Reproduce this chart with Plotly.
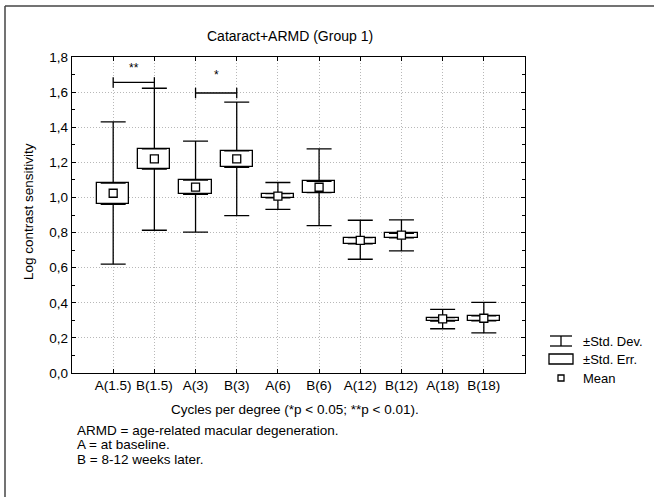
import plotly.graph_objects as go

categories = ["A(1.5)", "B(1.5)", "A(3)", "B(3)", "A(6)", "B(6)", "A(12)", "B(12)", "A(18)", "B(18)"]
means = [1.024, 1.220, 1.059, 1.220, 1.007, 1.058, 0.755, 0.785, 0.308, 0.312]
se_hi = [1.082, 1.277, 1.099, 1.266, 1.022, 1.091, 0.771, 0.796, 0.315, 0.325]
se_lo = [0.961, 1.162, 1.018, 1.172, 0.997, 1.028, 0.735, 0.770, 0.296, 0.297]
sd_hi = [1.430, 1.622, 1.321, 1.543, 1.085, 1.277, 0.870, 0.872, 0.362, 0.402]
sd_lo = [0.620, 0.813, 0.802, 0.896, 0.932, 0.840, 0.648, 0.696, 0.252, 0.228]

# significance brackets: (first category index, second category index, bracket level, label, label level)
sig_pairs = [(0, 1, 1.655, "**", 1.74), (2, 3, 1.595, "*", 1.70)]

xpos = list(range(1, len(categories) + 1))

FONT = "Liberation Sans, Arial, sans-serif"
L, R, T, B = 72, 525, 57, 373
W, H = 654, 497

def px(x):
    return (x - L) / (R - L)

def py(y):
    return (B - y) / (B - T)

fig = go.Figure()

# ±SE boxes
fig.add_trace(go.Bar(
    x=xpos, base=se_lo, y=[h - l for h, l in zip(se_hi, se_lo)],
    width=0.78, marker=dict(color="white", line=dict(color="black", width=1.3)),
    showlegend=False, hoverinfo="skip"))

# ±SD whiskers (upper part and lower part, from box edges)
fig.add_trace(go.Scatter(
    x=xpos, y=se_hi, mode="markers", marker=dict(size=0.1, color="rgba(0,0,0,0)"),
    error_y=dict(type="data", symmetric=False,
                 array=[h - s for h, s in zip(sd_hi, se_hi)],
                 arrayminus=[0] * len(xpos), color="black", thickness=1.3, width=12.5),
    showlegend=False, hoverinfo="skip"))
fig.add_trace(go.Scatter(
    x=xpos, y=se_lo, mode="markers", marker=dict(size=0.1, color="rgba(0,0,0,0)"),
    error_y=dict(type="data", symmetric=False,
                 array=[0] * len(xpos),
                 arrayminus=[s - l for s, l in zip(se_lo, sd_lo)], color="black", thickness=1.3, width=12.5),
    showlegend=False, hoverinfo="skip"))

# Means
fig.add_trace(go.Scatter(
    x=xpos, y=means, mode="markers",
    marker=dict(symbol="square", size=8, color="white", line=dict(color="black", width=1.3)),
    showlegend=False, hoverinfo="skip"))

shapes = []
annotations = []

# Significance brackets
for a, b, lvl, lab, lablvl in sig_pairs:
    xa, xb = xpos[a], xpos[b]
    shapes.append(dict(type="line", xref="x", yref="y", x0=xa, x1=xb, y0=lvl, y1=lvl,
                       line=dict(color="black", width=1.3)))
    for xx in (xa, xb):
        shapes.append(dict(type="line", xref="x", yref="y", x0=xx, x1=xx, y0=lvl - 0.03, y1=lvl + 0.03,
                           line=dict(color="black", width=1.3)))
    annotations.append(dict(xref="x", yref="y", x=(xa + xb) / 2, y=lablvl, text=lab, showarrow=False,
                            font=dict(family=FONT, size=12, color="black")))

# Outer frame (top and left edges visible)
shapes.append(dict(type="line", xref="paper", yref="paper", x0=px(5), x1=px(W + 5), y0=py(6), y1=py(6),
                   line=dict(color="#444", width=1.5)))
shapes.append(dict(type="line", xref="paper", yref="paper", x0=px(5), x1=px(5), y0=py(6), y1=py(H + 5),
                   line=dict(color="#444", width=1.5)))

# Legend (drawn manually)
lx0, lx1 = 549, 573
lxc = (lx0 + lx1) / 2
shapes += [
    dict(type="line", xref="paper", yref="paper", x0=px(lx0 + 1), x1=px(lx1 - 1), y0=py(336), y1=py(336), line=dict(color="black", width=1.3)),
    dict(type="line", xref="paper", yref="paper", x0=px(lx0 + 1), x1=px(lx1 - 1), y0=py(346), y1=py(346), line=dict(color="black", width=1.3)),
    dict(type="line", xref="paper", yref="paper", x0=px(lxc), x1=px(lxc), y0=py(336), y1=py(346), line=dict(color="black", width=1.3)),
    dict(type="rect", xref="paper", yref="paper", x0=px(lx0), x1=px(lx1), y0=py(354), y1=py(364), line=dict(color="black", width=1.3), fillcolor="white"),
    dict(type="rect", xref="paper", yref="paper", x0=px(lxc - 3), x1=px(lxc + 3), y0=py(375), y1=py(381), line=dict(color="black", width=1.3), fillcolor="white"),
]
for txt, yy in (("±Std. Dev.", 341), ("±Std. Err.", 359.5), ("Mean", 378)):
    annotations.append(dict(xref="paper", yref="paper", x=px(581), y=py(yy), text=txt, showarrow=False,
                            xanchor="left", yanchor="middle", font=dict(family=FONT, size=13, color="black")))

# Title
annotations.append(dict(xref="paper", yref="paper", x=px(290), y=py(36), text="Cataract+ARMD (Group 1)",
                        showarrow=False, xanchor="center", yanchor="middle",
                        font=dict(family=FONT, size=14, color="black")))
# X-axis title
annotations.append(dict(xref="paper", yref="paper", x=px(295), y=py(409),
                        text="Cycles per degree (*p < 0.05; **p < 0.01).",
                        showarrow=False, xanchor="center", yanchor="middle",
                        font=dict(family=FONT, size=13.5, color="black")))
# Notes
for txt, yy in (("ARMD = age-related macular degeneration.", 430),
                ("A = at baseline.", 444.5),
                ("B = 8-12 weeks later.", 459)):
    annotations.append(dict(xref="paper", yref="paper", x=px(75), y=py(yy), text=txt, showarrow=False,
                            xanchor="left", yanchor="middle", font=dict(family=FONT, size=13.5, color="black")))
# Y-axis title
annotations.append(dict(xref="paper", yref="paper", x=px(29), y=py(212), text="Log contrast sensitivity",
                        showarrow=False, textangle=-90, xanchor="center", yanchor="middle",
                        font=dict(family=FONT, size=13.5, color="black")))

fig.update_layout(
    width=W, height=H,
    margin=dict(l=L, r=W - R, t=T, b=H - B),
    paper_bgcolor="white", plot_bgcolor="white",
    separators=", ",
    font=dict(family=FONT, size=13, color="black"),
    shapes=shapes, annotations=annotations,
    showlegend=False, bargap=0,
)
fig.update_xaxes(
    range=[0, len(categories) + 1], tickvals=xpos, ticktext=categories,
    showgrid=True, gridcolor="#b8b8b8", griddash="1px,2px", gridwidth=1,
    showline=True, linecolor="black", linewidth=1.3, mirror="ticks",
    ticks="inside", ticklen=4, tickcolor="black", zeroline=False,
    tickfont=dict(family=FONT, size=13.5, color="black"),
)
fig.update_yaxes(
    range=[0, 1.8], tickvals=[0, 0.2, 0.4, 0.6, 0.8, 1.0, 1.2, 1.4, 1.6, 1.8], tickformat=".1f",
    showgrid=True, gridcolor="#b8b8b8", griddash="1px,2px", gridwidth=1,
    showline=True, linecolor="black", linewidth=1.3, mirror="ticks",
    ticks="inside", ticklen=4, tickcolor="black", zeroline=False,
    minor=dict(dtick=0.1, ticks="inside", ticklen=3, tickcolor="black", showgrid=False),
    tickfont=dict(family=FONT, size=13.5, color="black"),
)

fig.write_html("out.html", config={"displayModeBar": False},
               post_script="document.body.style.margin='0';document.body.style.overflow='hidden';")
